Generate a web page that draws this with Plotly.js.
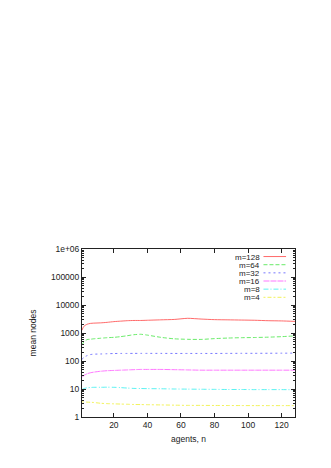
<!DOCTYPE html>
<html>
<head>
<meta charset="utf-8">
<script src="https://cdn.plot.ly/plotly-3.0.1.min.js"></script>
<style>html,body{margin:0;padding:0;background:#fff;}#chart{width:331px;height:468px;}</style>
</head>
<body>
<div id="chart"></div>
<script>
// agents, n
const agents = [1,2,4,6,8,12,16,20,24,28,32,36,40,48,56,64,72,80,88,96,104,112,120,128];
// mean nodes per series
const m128 = [1250,1700,2050,2200,2250,2300,2400,2550,2650,2750,2800,2800,2850,2950,3050,3350,3150,3000,2950,2900,2850,2750,2700,2600];
const m64  = [370,470,580,600,620,650,680,700,740,800,870,900,840,700,620,595,590,630,660,680,690,710,740,790];
const m32  = [113,135,155,170,175,178,182,185,186,186,187,187,187,187,186,186,186,186,187,188,188,189,190,190];
const m16  = [26,30,35,38,40,43,45,46,47,48,49,50,50,50,49,48,47,47,47,47,47,47,47,47];
const m8   = [9.5,10.3,11,11.3,11.5,11.5,11.6,11.5,11.2,10.8,10.5,10.4,10.3,10.2,10,9.9,9.8,9.7,9.6,9.6,9.5,9.5,9.5,9.4];
const m4   = [3.5,3.45,3.4,3.35,3.3,3.1,3.0,2.95,2.9,2.85,2.8,2.78,2.75,2.7,2.65,2.6,2.6,2.58,2.57,2.56,2.55,2.55,2.55,2.55];

const seriesNames = ['m=128','m=64','m=32','m=16','m=8','m=4'];
const seriesData = [m128, m64, m32, m16, m8, m4];
const yTickVals = [1,10,100,1000,10000,100000,1000000];
const yTickText = ['1','10','100','1000','10000','100000','1e+06'];
const xTickVals = [20,40,60,80,100,120];

const colors = ['#ff5050','#50e850','#6060ff','#ff60ff','#40f0f0','#f0f040'];
const dashes = ['solid','4px,2px','2px,3px','6px,1px','5px,2px,1px,2px','2px,2px,4px,2px'];

const traces = seriesNames.map((nm,i)=>({
  x: agents, y: seriesData[i], name: nm, type:'scatter', mode:'lines',
  line:{color:colors[i], width:1, dash:dashes[i], shape:'spline', smoothing:0.6},
  opacity:0.85, showlegend:false
}));

const font = {family:'Liberation Sans, Arial, sans-serif', size:8.5, color:'#222'};
const legFont = {family:'Liberation Sans, Arial, sans-serif', size:8, color:'#222'};
const annotations = [];
const shapes = [];
const legTop = 0.955, legStep = 0.0485;
seriesNames.forEach((nm,i)=>{
  const yy = legTop - i*legStep;
  annotations.push({xref:'paper', yref:'paper', x:0.84, y:yy, text:nm, showarrow:false,
    xanchor:'right', yanchor:'middle', font:legFont, borderpad:0, height:8, valign:'middle'});
  shapes.push({type:'line', xref:'paper', yref:'paper', x0:0.852, x1:0.958, y0:yy, y1:yy,
    line:{color:colors[i], width:1, dash:dashes[i]}, opacity:0.85});
});

const layout = {
  width:331, height:468,
  margin:{l:82, r:36, t:249, b:51},
  paper_bgcolor:'#fff', plot_bgcolor:'#fff',
  font: font,
  showlegend:false,
  xaxis:{
    range:[1,128], tickvals:xTickVals, ticks:'inside', ticklen:4, tickcolor:'#222',
    showline:true, linecolor:'#222', linewidth:1, mirror:'allticks', showgrid:false, zeroline:false,
    tickfont:font, title:{text:'agents, n', font:font, standoff:6}
  },
  yaxis:{
    type:'log', range:[0,6], tickvals:yTickVals, ticktext:yTickText, ticks:'inside', ticklen:4, tickcolor:'#222',
    minor:{ticks:'inside', ticklen:2, tickcolor:'#222', dtick:'D1', showgrid:false},
    showline:true, linecolor:'#222', linewidth:1, mirror:'allticks', showgrid:false, zeroline:false,
    tickfont:font, title:{text:'mean nodes', font:font, standoff:12}
  },
  annotations: annotations,
  shapes: shapes
};
Plotly.newPlot('chart', traces, layout, {staticPlot:true, displayModeBar:false});
</script>
</body>
</html>
